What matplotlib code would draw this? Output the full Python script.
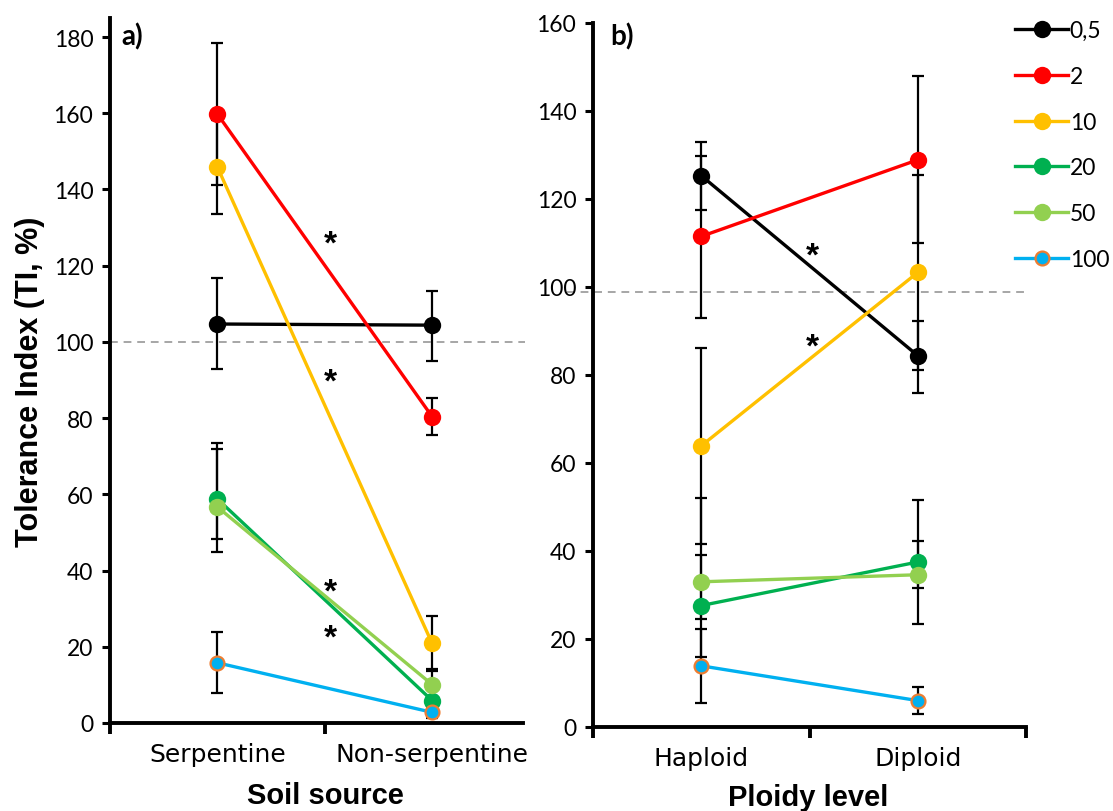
import matplotlib
matplotlib.use("Agg")
import matplotlib.pyplot as plt
import numpy as np

# ---------------- data ----------------
conc_labels = ["0,5", "2", "10", "20", "50", "100"]
colors = ["#000000", "#FF0000", "#FFC000", "#00B050", "#92D050", "#00B0F0"]

soil_cats = ["Serpentine", "Non-serpentine"]
soil_mean = {
    "0,5": [104.7, 104.4],
    "2":   [159.8, 80.4],
    "10":  [145.9, 20.9],
    "20":  [58.8, 5.9],
    "50":  [56.7, 10.1],
    "100": [15.8, 2.8],
}
soil_err_lo = {
    "0,5": [11.8, 9.3],
    "2":   [18.5, 4.8],
    "10":  [12.3, 6.8],
    "20":  [14.0, 3.0],
    "50":  [8.4, 3.5],
    "100": [8.0, 1.5],
}
soil_err_hi = {
    "0,5": [12.1, 9.0],
    "2":   [18.6, 4.9],
    "10":  [12.3, 7.2],
    "20":  [14.7, 3.0],
    "50":  [15.1, 3.5],
    "100": [8.1, 1.5],
}

ploidy_cats = ["Haploid", "Diploid"]
ploidy_mean = {
    "0,5": [125.3, 84.4],
    "2":   [111.5, 128.9],
    "10":  [63.9, 103.3],
    "20":  [27.6, 37.5],
    "50":  [33.0, 34.6],
    "100": [13.9, 6.0],
}
ploidy_err_lo = {
    "0,5": [7.7, 8.6],
    "2":   [18.5, 19.0],
    "10":  [22.2, 22.2],
    "20":  [11.8, 14.2],
    "50":  [8.5, 3.1],
    "100": [8.4, 3.0],
}
ploidy_err_hi = {
    "0,5": [7.7, 7.9],
    "2":   [18.2, 19.0],
    "10":  [22.2, 22.2],
    "20":  [11.5, 14.2],
    "50":  [19.0, 7.7],
    "100": [8.4, 3.0],
}

ref_a = 100
ref_b = 98.9

# ---------------- figure ----------------
W, H = 1113, 812
fig = plt.figure(figsize=(W / 100, H / 100), dpi=100)

def fx(px):
    return px / W

def fy(py):
    return 1 - py / H

ax1 = fig.add_axes([fx(110), fy(724), fx(523) - fx(110), fy(19) - fy(724)])
ax2 = fig.add_axes([fx(593), fy(728), fx(1026) - fx(593), fy(24) - fy(728)])

num_font = "Lato"
cat_font = "Liberation Sans"

def draw_panel(ax, cats, means, elo, ehi):
    x = np.arange(len(cats))
    handles = []
    for lab, col in zip(conc_labels, colors):
        ax.errorbar(x, means[lab], yerr=[elo[lab], ehi[lab]], fmt="none",
                    ecolor="black", elinewidth=1.6, capsize=4.5, capthick=1.6,
                    zorder=2)
    for i, (lab, col) in enumerate(zip(conc_labels, colors)):
        if lab == "100":
            h, = ax.plot(x, means[lab], "-o", color=col, lw=2.4, ms=10,
                         mfc=col, mec="#ED7D31", mew=1.6, zorder=3 + i,
                         label=lab)
        else:
            h, = ax.plot(x, means[lab], "-o", color=col, lw=2.4, ms=12.5,
                         mfc=col, mec=col, mew=0, zorder=3 + i, label=lab)
        handles.append(h)
    for sp in ["top", "right"]:
        ax.spines[sp].set_visible(False)
    for sp in ["left", "bottom"]:
        ax.spines[sp].set_linewidth(2.8)
    ax.tick_params(axis="y", direction="out", length=6, width=2.2,
                   labelsize=16.5, pad=6)
    ax.tick_params(axis="x", which="major", direction="out", length=8,
                   width=2.8, labelbottom=False)
    ax.tick_params(axis="x", which="minor", length=0, labelsize=18, pad=14)
    ax.set_xticks(x, minor=True)
    ax.set_xticklabels(cats, minor=True, fontfamily=cat_font, fontsize=18)
    return handles

h1 = draw_panel(ax1, soil_cats, soil_mean, soil_err_lo, soil_err_hi)
ax1.set_ylim(0, 185.0)
ax1.set_xlim(-0.4977, 1.4233)
ax1.set_yticks(np.arange(0, 181, 20))
ax1.set_xticks([-0.5, 0.5])
for t in ax1.get_yticklabels():
    t.set_fontfamily(num_font)
ax1.plot([-0.4977, 1.433], [ref_a, ref_a], ls=(0, (4, 3)), color="#A6A6A6",
         lw=1.4, zorder=1, clip_on=False)

h2 = draw_panel(ax2, ploidy_cats, ploidy_mean, ploidy_err_lo, ploidy_err_hi)
ax2.set_ylim(0, 160)
ax2.set_xlim(-0.5, 1.5)
ax2.set_yticks(np.arange(0, 161, 20))
ax2.set_xticks([-0.5, 0.5, 1.5])
for t in ax2.get_yticklabels():
    t.set_fontfamily(num_font)
ax2.plot([-0.62, 1.5], [ref_b, ref_b], ls=(0, (4, 3)), color="#A6A6A6",
         lw=1.4, zorder=1, clip_on=False)

# panel letters
fig.text(fx(121), fy(37), "a)", fontsize=20, fontweight="bold",
         fontfamily=num_font, va="center", ha="left")
fig.text(fx(610), fy(37), "b)", fontsize=20, fontweight="bold",
         fontfamily=num_font, va="center", ha="left")

# axis titles
fig.text(fx(30), fy(382), "Tolerance Index (TI, %)", rotation=90,
         fontsize=22, fontweight="bold", fontfamily=cat_font,
         ha="center", va="center")
fig.text(fx(325), fy(796), "Soil source", fontsize=21, fontweight="bold",
         fontfamily=cat_font, ha="center", va="center")
fig.text(fx(808), fy(798), "Ploidy level", fontsize=21, fontweight="bold",
         fontfamily=cat_font, ha="center", va="center")

# significance asterisks
for py in [238, 376, 586, 632]:
    fig.text(fx(330), fy(py + 7), "*", fontsize=24, fontweight="bold",
             fontfamily=cat_font, ha="center", va="center")
for py in [250, 341]:
    fig.text(fx(812), fy(py + 7), "*", fontsize=24, fontweight="bold",
             fontfamily=cat_font, ha="center", va="center")

# legend
leg = fig.legend(handles=h2, labels=conc_labels, loc="upper left",
                 bbox_to_anchor=(fx(1006), fy(12)), frameon=False,
                 prop={"family": num_font, "size": 16.5},
                 handlelength=2.3, handletextpad=0.08, labelspacing=1.08,
                 borderaxespad=0)

fig.savefig("out.png", dpi=100)
